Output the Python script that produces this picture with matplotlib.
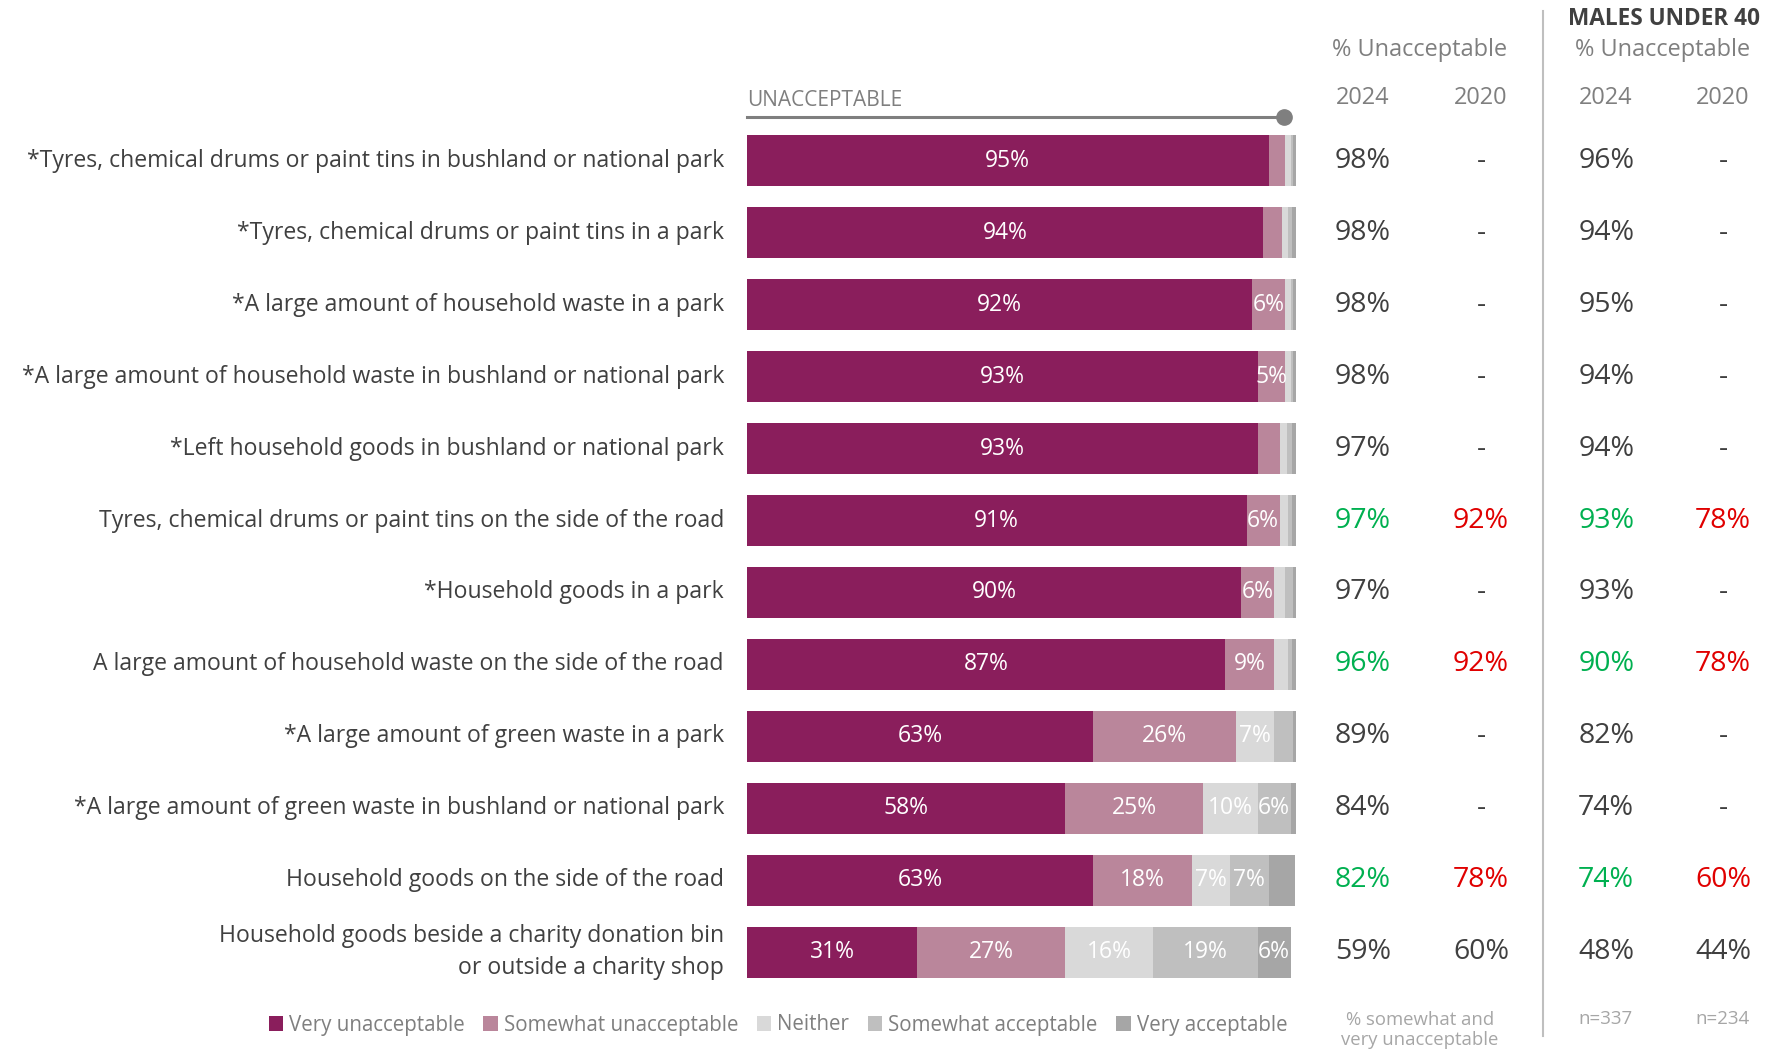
import numpy as np
import matplotlib.pyplot as plt
from matplotlib.patches import Patch

plt.rcParams['font.family'] = ['Open Sans', 'DejaVu Sans']

# survey items, top to bottom
items = [
    "*Tyres, chemical drums or paint tins in bushland or national park",
    "*Tyres, chemical drums or paint tins in a park",
    "*A large amount of household waste in a park",
    "*A large amount of household waste in bushland or national park",
    "*Left household goods in bushland or national park",
    "Tyres, chemical drums or paint tins on the side of the road",
    "*Household goods in a park",
    "A large amount of household waste on the side of the road",
    "*A large amount of green waste in a park",
    "*A large amount of green waste in bushland or national park",
    "Household goods on the side of the road",
    "Household goods beside a charity donation bin\nor outside a charity shop",
]

categories = ["Very unacceptable", "Somewhat unacceptable", "Neither",
              "Somewhat acceptable", "Very acceptable"]

very_unacc = [95, 94, 92, 93, 93, 91, 90, 87, 63, 58, 63, 31]
somewhat_unacc = [3, 3.5, 6, 5, 4, 6, 6, 9, 26, 25, 18, 27]
neither = [1, 1, 1, 1, 1.3, 1.5, 2, 2.5, 7, 10, 7, 16]
somewhat_acc = [0.5, 0.8, 0.5, 0.5, 0.9, 0.8, 1.4, 0.8, 3.5, 6, 7, 19]
very_acc = [0.5, 0.7, 0.5, 0.5, 0.8, 0.7, 0.6, 0.7, 0.5, 1, 4.9, 6]

total_2024 = ["98%", "98%", "98%", "98%", "97%", "97%", "97%", "96%", "89%", "84%", "82%", "59%"]
total_2020 = ["-", "-", "-", "-", "-", "92%", "-", "92%", "-", "-", "78%", "60%"]
males_2024 = ["96%", "94%", "95%", "94%", "94%", "93%", "93%", "90%", "82%", "74%", "74%", "48%"]
males_2020 = ["-", "-", "-", "-", "-", "78%", "-", "78%", "-", "-", "60%", "44%"]
highlight = [False, False, False, False, False, True, False, True, False, False, True, False]

colors = ["#8A1E5C", "#BA869B", "#D9D9D9", "#BFBFBF", "#A6A6A6"]
GREY = "#7F7F7F"
DARK = "#404040"
GREEN = "#00B050"
RED = "#E00000"

W, H = 1781, 1053
fig = plt.figure(figsize=(W / 100, H / 100), dpi=100)


def fx(x):
    return x / W


def fy(y):
    return 1 - y / H


ax = fig.add_axes([fx(747), fy(988), 549 / W, 863 / H])
ax.set_xlim(0, 100)
ax.set_ylim(len(items) - 0.5, -0.5)
ax.axis("off")

y = np.arange(len(items))
series = [very_unacc, somewhat_unacc, neither, somewhat_acc, very_acc]
left = np.zeros(len(items))
for vals, c in zip(series, colors):
    vals = np.array(vals, dtype=float)
    ax.barh(y, vals, left=left, height=0.71, color=c, linewidth=0)
    for yi, (l, v) in enumerate(zip(left, vals)):
        if v >= 5:
            ax.text(l + v / 2, yi, f"{v:.0f}%", ha="center", va="center",
                    color="white", fontsize=16.5)
    left += vals

# row labels
for yi, label in enumerate(items):
    ax.text(-4.2, yi, label, ha="right", va="center", fontsize=16.6,
            color=DARK, linespacing=1.45)

# summary columns
col_x = [112.2, 133.7, 156.5, 177.8]
for yi in range(len(items)):
    cols = [total_2024[yi], total_2020[yi], males_2024[yi], males_2020[yi]]
    for j, (cx, txt) in enumerate(zip(col_x, cols)):
        if highlight[yi]:
            c = GREEN if j % 2 == 0 else RED
        else:
            c = DARK
        ax.text(cx, yi, txt, ha="center", va="center", fontsize=20.5,
                color=c, clip_on=False)

# header above bars
fig.text(fx(747), fy(100), "UNACCEPTABLE", ha="left", va="center",
         fontsize=15, color=GREY)
fig.add_artist(plt.Line2D([fx(747), fx(1284)], [fy(117), fy(117)],
                          color=GREY, lw=2.2))
fig.add_artist(plt.Line2D([fx(1284)], [fy(117)], marker="o", markersize=11,
                          color=GREY))

# column headers
for cx in [1420, 1663]:
    fig.text(fx(cx), fy(50), "% Unacceptable", ha="center", va="center",
             fontsize=16.9, color=GREY)
for cx, yr in zip([1363, 1481, 1606, 1723], ["2024", "2020", "2024", "2020"]):
    fig.text(fx(cx), fy(98), yr, ha="center", va="center", fontsize=16.9,
             color=GREY)
fig.text(fx(1664), fy(19), "MALES UNDER 40", ha="center", va="center",
         fontsize=16.3, color=DARK, fontweight="bold")

# divider between overall and subgroup
fig.add_artist(plt.Line2D([fx(1543), fx(1543)], [fy(11), fy(1036)],
                          color="#BFBFBF", lw=1.5))

# footnotes
fig.text(fx(1420), fy(1030), "% somewhat and\nvery unacceptable", ha="center",
         va="center", fontsize=13.3, color="#A6A6A6", linespacing=1.2)
fig.text(fx(1606), fy(1019), "n=337", ha="center", va="center", fontsize=13.5,
         color="#A6A6A6")
fig.text(fx(1723), fy(1019), "n=234", ha="center", va="center", fontsize=13.5,
         color="#A6A6A6")

# legend
handles = [Patch(facecolor=c, edgecolor="none") for c in colors]
leg = fig.legend(handles, categories, loc="center", ncol=5,
                 bbox_to_anchor=(fx(778), fy(1025)), frameon=False,
                 fontsize=14.8, handlelength=0.7, handleheight=0.7,
                 handletextpad=0.3, columnspacing=0.9)
for t in leg.get_texts():
    t.set_color(GREY)

fig.savefig("out.png", dpi=100, facecolor="white")
